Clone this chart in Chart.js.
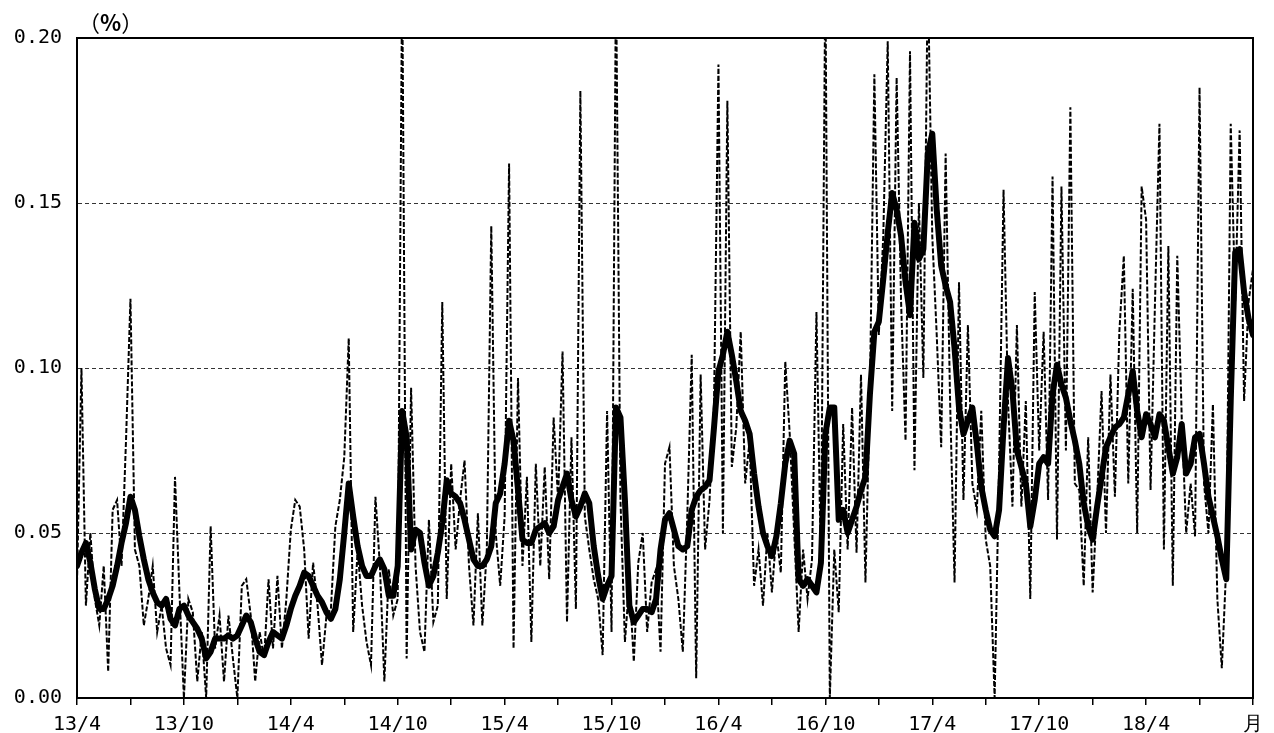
<!DOCTYPE html>
<html lang="ja">
<head>
<meta charset="utf-8">
<script src="https://cdn.jsdelivr.net/npm/chart.js@4.4.1/dist/chart.umd.min.js"></script>
<style>
body{margin:0;background:#fff}
#wrap{position:relative;width:1274px;height:733px}
#unit{position:absolute;left:78px;top:10px;font:22px/22px "Noto Sans CJK JP";color:#000}
#unit b{font-weight:bold}
</style>
</head>
<body>
<div id="wrap">
  <canvas id="myChart" width="1274" height="733"></canvas>
  <div id="unit">（<b>%</b>）</div>
</div>
<script>
// x is in months from 2013/4 ; ticks every 3 months, label every 6
const xTickLabels = ["13/4","13/10","14/4","14/10","15/4","15/10","16/4","16/10","17/4","17/10","18/4","月"]
const yTicks = [0, 0.05, 0.10, 0.15, 0.20]

// both series: one value a week (a quarter month)
const step = 0.25

// thick line
const solidLine = [
 0.040,0.044,0.047,0.041,0.033,0.027,0.027,0.030,0.034,0.040,
 0.047,0.053,0.061,0.057,0.049,0.042,0.036,0.032,0.029,0.028,
 0.030,0.024,0.022,0.027,0.028,0.025,0.023,0.021,0.018,0.012,
 0.014,0.018,0.018,0.018,0.019,0.018,0.019,0.022,0.025,0.023,
 0.018,0.014,0.013,0.017,0.020,0.019,0.018,0.022,0.027,0.031,
 0.034,0.038,0.037,0.034,0.031,0.029,0.026,0.024,0.027,0.036,
 0.050,0.065,0.055,0.046,0.040,0.037,0.037,0.040,0.042,0.039,
 0.031,0.031,0.040,0.087,0.079,0.045,0.051,0.050,0.041,0.034,
 0.037,0.044,0.053,0.066,0.062,0.061,0.059,0.054,0.048,0.042,
 0.040,0.040,0.042,0.046,0.059,0.062,0.071,0.084,0.078,0.063,
 0.048,0.047,0.047,0.051,0.052,0.053,0.050,0.052,0.060,0.064,
 0.068,0.060,0.055,0.058,0.062,0.059,0.046,0.037,0.030,0.034,
 0.037,0.088,0.085,0.060,0.028,0.023,0.025,0.027,0.027,0.026,
 0.030,0.045,0.054,0.056,0.051,0.046,0.045,0.046,0.057,0.061,
 0.063,0.064,0.066,0.082,0.099,0.104,0.111,0.104,0.096,0.087,
 0.084,0.080,0.068,0.058,0.050,0.046,0.043,0.049,0.059,0.071,
 0.078,0.074,0.036,0.034,0.036,0.034,0.032,0.041,0.080,0.088,
 0.088,0.054,0.057,0.050,0.054,0.058,0.063,0.067,0.092,0.111,
 0.114,0.127,0.141,0.153,0.148,0.140,0.126,0.116,0.144,0.133,
 0.136,0.165,0.171,0.148,0.131,0.125,0.120,0.106,0.088,0.080,
 0.084,0.088,0.077,0.064,0.057,0.051,0.049,0.057,0.082,0.103,
 0.093,0.075,0.070,0.065,0.052,0.060,0.071,0.073,0.071,0.092,
 0.101,0.095,0.091,0.084,0.078,0.071,0.059,0.052,0.048,0.058,
 0.067,0.076,0.079,0.082,0.083,0.085,0.092,0.099,0.087,0.079,
 0.086,0.083,0.079,0.086,0.084,0.076,0.068,0.073,0.083,0.068,
 0.071,0.079,0.080,0.071,0.061,0.055,0.049,0.042,0.036,0.090,
 0.135,0.136,0.123,0.115,0.110
]

// dashed line
const dashedLine = [
 0.035,0.100,0.028,0.050,0.030,0.022,0.040,0.008,0.057,0.060,
 0.040,0.078,0.121,0.045,0.040,0.022,0.030,0.040,0.020,0.028,
 0.015,0.010,0.067,0.032,0.000,0.030,0.026,0.005,0.020,0.000,
 0.052,0.015,0.025,0.005,0.025,0.012,0.000,0.034,0.036,0.025,
 0.005,0.020,0.012,0.036,0.015,0.037,0.015,0.030,0.051,0.060,
 0.058,0.045,0.018,0.041,0.028,0.010,0.025,0.027,0.052,0.060,
 0.073,0.109,0.020,0.045,0.028,0.017,0.010,0.061,0.040,0.005,
 0.039,0.025,0.030,0.220,0.012,0.094,0.040,0.020,0.014,0.054,
 0.023,0.028,0.120,0.030,0.071,0.045,0.060,0.072,0.040,0.022,
 0.056,0.022,0.045,0.143,0.050,0.034,0.055,0.162,0.015,0.097,
 0.040,0.067,0.017,0.071,0.040,0.070,0.036,0.085,0.060,0.105,
 0.023,0.079,0.027,0.184,0.055,0.045,0.036,0.030,0.013,0.087,
 0.020,0.220,0.060,0.017,0.035,0.011,0.041,0.050,0.020,0.035,
 0.039,0.014,0.071,0.076,0.040,0.030,0.014,0.055,0.104,0.006,
 0.098,0.045,0.060,0.089,0.192,0.050,0.181,0.070,0.082,0.111,
 0.065,0.078,0.034,0.045,0.028,0.050,0.032,0.050,0.038,0.102,
 0.080,0.050,0.020,0.045,0.030,0.042,0.117,0.040,0.220,0.000,
 0.045,0.026,0.083,0.045,0.088,0.044,0.098,0.035,0.093,0.189,
 0.110,0.140,0.199,0.087,0.188,0.120,0.078,0.196,0.069,0.150,
 0.097,0.220,0.140,0.110,0.076,0.165,0.090,0.035,0.126,0.060,
 0.113,0.065,0.057,0.087,0.048,0.040,0.000,0.070,0.154,0.090,
 0.058,0.113,0.058,0.090,0.030,0.123,0.075,0.111,0.060,0.158,
 0.048,0.155,0.075,0.179,0.065,0.063,0.034,0.079,0.032,0.060,
 0.093,0.050,0.098,0.061,0.111,0.134,0.065,0.124,0.050,0.155,
 0.145,0.063,0.120,0.174,0.045,0.137,0.034,0.134,0.085,0.050,
 0.065,0.049,0.185,0.065,0.050,0.089,0.030,0.009,0.040,0.174,
 0.120,0.172,0.090,0.120,0.130
]

const FONT = {family: "DejaVu Sans Mono", size: 20}

// frame round the plot area
const frame = {
    id: "frame",
    afterDatasetsDraw(chart) {
        const a = chart.chartArea, c = chart.ctx
        c.save()
        c.strokeStyle = "#000"
        c.lineWidth = 2
        c.strokeRect(a.left, a.top, a.right - a.left, a.bottom - a.top)
        c.restore()
    }
}

var ctx = document.getElementById("myChart").getContext("2d")
var chart = new Chart(ctx, {
    type: "line",
    data: {
        datasets: [{
            label: "solid",
            data: solidLine.map((v, i) => ({x: i * step, y: v})),
            borderColor: "#000",
            borderWidth: 6,
            borderJoinStyle: "round",
            borderCapStyle: "round",
            pointRadius: 0,
            tension: 0
        }, {
            label: "dashed",
            data: dashedLine.map((v, i) => ({x: i * step, y: v})),
            borderColor: "#000",
            borderWidth: 2,
            borderDash: [5, 2],
            pointRadius: 0,
            tension: 0
        }]
    },
    options: {
        responsive: false,
        animation: false,
        layout: {padding: {top: 38, right: 21, left: 0, bottom: 0}},
        plugins: {legend: {display: false}, tooltip: {enabled: false}},
        scales: {
            x: {
                type: "linear",
                min: 0,
                max: 66,
                afterFit: s => { s.height = 35 },
                afterBuildTicks: s => { s.ticks = []; for (let m = 0; m <= 66; m += 3) s.ticks.push({value: m}) },
                ticks: {
                    autoSkip: false,
                    maxRotation: 0,
                    padding: 8,
                    color: "#000",
                    font: FONT,
                    callback: v => (v % 6 === 0 ? xTickLabels[v / 6] : "")
                },
                grid: {drawOnChartArea: false, drawTicks: true, tickLength: 7, color: "#000", lineWidth: 1.5},
                border: {display: true, color: "#000", width: 2}
            },
            y: {
                min: 0,
                max: 0.2,
                afterFit: s => { s.width = 77 },
                afterBuildTicks: s => { s.ticks = yTicks.map(v => ({value: v})) },
                ticks: {
                    padding: 15,
                    color: "#000",
                    font: FONT,
                    callback: v => v.toFixed(2)
                },
                grid: {drawTicks: false, color: "#000", lineWidth: 0.8},
                border: {display: true, color: "#000", width: 2, dash: [4, 3]}
            }
        }
    },
    plugins: [frame]
})
</script>
</body>
</html>
